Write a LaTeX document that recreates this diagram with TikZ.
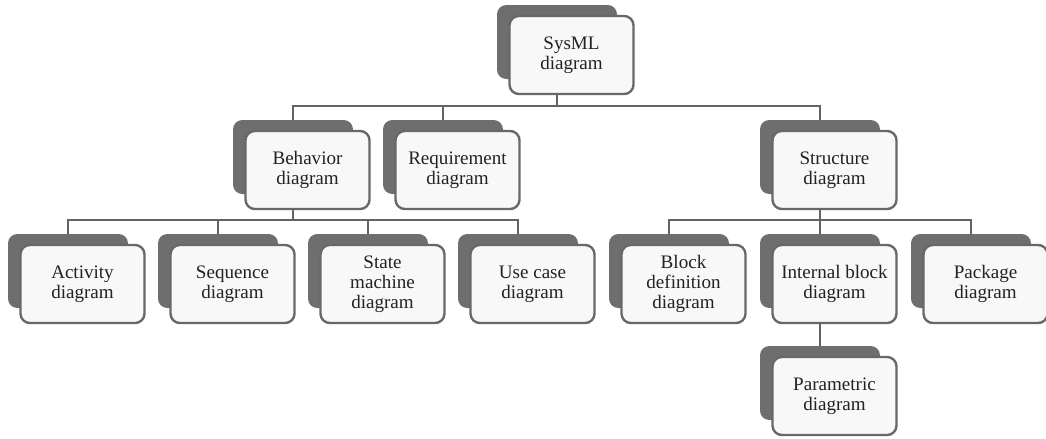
\documentclass[tikz,border=0pt]{standalone}
\usepackage{fontspec}
\setmainfont{Liberation Serif}
\definecolor{backgray}{HTML}{6E6E6E}
\definecolor{edgegray}{HTML}{686868}
\definecolor{facewhite}{HTML}{F8F8F8}
\definecolor{linegray}{HTML}{646464}
\definecolor{inkgray}{HTML}{222222}
% one diagram box: a dark card behind a light card carrying the label
% #1 name, #2 x of the dark card centre, #3 top of the dark card, #4 label
\newcommand\smbox[4]{%
  \node[backcard] (#1b) at (#2, #3+37) {};
  \node[frontcard] (#1) at (#2+14.5, #3+50) {#4};
}
\begin{document}
\begin{tikzpicture}[x=0.75pt, y=-0.75pt,
  backcard/.style={draw=none, fill=backgray, rounded corners=7pt,
    minimum width=90pt, minimum height=55.5pt, inner sep=0pt},
  frontcard/.style={draw=edgegray, line width=1.8pt, fill=facewhite,
    rounded corners=7pt, minimum width=93pt, minimum height=58.5pt,
    inner sep=0pt, align=center, text=inkgray,
    font=\fontsize{14.3}{15}\selectfont},
  conn/.style={draw=linegray, line width=2pt}]
\useasboundingbox (0,0) rectangle (1046,439);

% top level
\smbox{sysml}{557}{5}{SysML\\diagram}
% first level
\smbox{beh}{293}{120}{Behavior\\diagram}
\smbox{req}{443}{120}{Requirement\\diagram}
\smbox{str}{820}{120}{Structure\\diagram}
% behaviour diagrams
\smbox{act}{68}{234}{Activity\\diagram}
\smbox{seq}{218}{234}{Sequence\\diagram}
\smbox{stm}{368}{234}{State\\machine\\diagram}
\smbox{uc}{518}{234}{Use case\\diagram}
% structure diagrams
\smbox{bdd}{669}{234}{Block\\definition\\diagram}
\smbox{ibd}{820}{234}{Internal block\\diagram}
\smbox{pkg}{971}{234}{Package\\diagram}
\smbox{par}{820}{346}{Parametric\\diagram}

% bus levels
\coordinate (bar1) at (0,106);
\coordinate (bar2) at (0,220);

% connectors
\draw[conn] (sysmlb |- sysml.south) -- (sysmlb |- bar1) -| (behb.north);
\draw[conn] (sysmlb |- bar1) -| (reqb.north);
\draw[conn] (sysmlb |- bar1) -| (strb.north);

\draw[conn] (behb |- beh.south) -- (behb |- bar2) -| (actb.north);
\draw[conn] (behb |- bar2) -| (seqb.north);
\draw[conn] (behb |- bar2) -| (stmb.north);
\draw[conn] (behb |- bar2) -| (ucb.north);

\draw[conn] (strb |- str.south) -- (strb |- bar2) -| (bddb.north);
\draw[conn] (strb |- bar2) -| (ibdb.north);
\draw[conn] (strb |- bar2) -| (pkgb.north);

\draw[conn] (ibdb |- ibd.south) -- (parb.north);
\end{tikzpicture}
\end{document}
